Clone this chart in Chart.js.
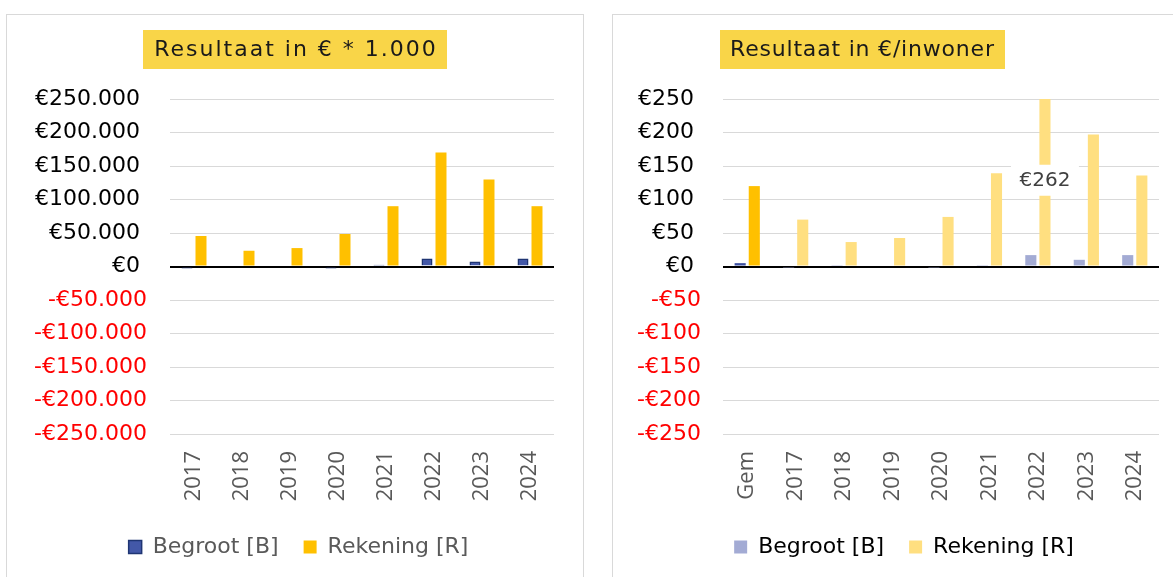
<!DOCTYPE html>
<html><head><meta charset="utf-8">
<script src="https://cdn.jsdelivr.net/npm/chart.js@4.4.1/dist/chart.umd.min.js"></script>
<style>
html,body{margin:0;padding:0;background:#fff;width:1173px;height:577px;overflow:hidden;position:relative}
.panel{position:absolute;top:14px;width:578px;height:600px;border:1px solid #D9D9D9;box-sizing:border-box}
canvas{position:absolute;top:14px}
</style></head><body>
<div class="panel" style="left:6px"></div>
<div class="panel" style="left:612px"></div>
<canvas id="c1" width="578" height="600" style="left:6px"></canvas>
<canvas id="c2" width="578" height="600" style="left:612px"></canvas>
<script>
// ---- data ----
const leftTitle = 'Resultaat in € * 1.000';
const rightTitle = 'Resultaat in €/inwoner';
const seriesLabels = ['Begroot [B]', 'Rekening [R]'];

const leftCategories = ['2017','2018','2019','2020','2021','2022','2023','2024'];
const leftBegroot   = [-3000, 1500, 1500, -3000, 2500, 12000, 7500, 12000];
const leftRekening  = [45500, 23500, 27500, 48500, 90000, 170000, 130000, 90000];

const rightCategories = ['Gem','2017','2018','2019','2020','2021','2022','2023','2024'];
const rightBegroot   = [5, -1, 1, 0, -1, 2, 17, 10, 17];
const rightRekening  = [120, 70, 36.5, 42.5, 74, 139, 262, 197, 136];

const leftAxis  = {min: -250000, max: 250000, step: 50000};
const rightAxis = {min: -250, max: 250, step: 50};

// ---- helpers ----
function fmtEuro(v){
  const a = Math.abs(v);
  const s = String(a).replace(/\B(?=(\d{3})+(?!\d))/g, '.');
  return v < 0 ? '-€' + s : '€' + s + ' ';
}

const titleBox = {
  id: 'titleBox',
  afterDraw(chart, args, o){
    if (!o || !o.text) return;
    const ctx = chart.ctx;
    ctx.save();
    ctx.font = '22px "DejaVu Sans"';
    if ('letterSpacing' in ctx) ctx.letterSpacing = o.spacing + 'px';
    const w = ctx.measureText(o.text).width;
    const bw = w + 2*10;
    ctx.fillStyle = '#F9D548';
    ctx.fillRect(Math.round(o.cx - bw/2), o.top, Math.round(bw), o.height);
    ctx.fillStyle = '#1A1A1A';
    ctx.textAlign = 'center';
    ctx.textBaseline = 'middle';
    ctx.fillText(o.text, o.cx + o.spacing/2, o.top + o.height/2 + 1);
    ctx.restore();
  }
};

const legendShift = {
  id: 'legendShift',
  afterLayout(chart, args, o){
    if (!o || o.left == null || !chart.legend) return;
    chart.legend.left = o.left;
    chart.legend.right = o.right;
    chart.legend.width = o.right - o.left;
  }
};

const overflowLabel = {
  id: 'overflowLabel',
  afterDatasetsDraw(chart, args, o){
    if (!o || o.datasetIndex == null) return;
    const meta = chart.getDatasetMeta(o.datasetIndex);
    const ds = chart.data.datasets[o.datasetIndex];
    const ys = chart.scales.y;
    const ctx = chart.ctx;
    meta.data.forEach((bar, i) => {
      const v = ds.data[i];
      if (v <= ys.max) return;
      const top = Math.max(bar.y, chart.chartArea.top);
      const cy = (top + bar.base)/2 - 2;
      const txt = '€' + v;
      ctx.save();
      ctx.font = '20px "DejaVu Sans"';
      const w = ctx.measureText(txt).width;
      const bw = w + 17, bh = 31;
      ctx.fillStyle = '#FFFFFF';
      ctx.fillRect(bar.x - bw/2, cy - bh/2, bw, bh);
      ctx.fillStyle = '#404040';
      ctx.textAlign = 'center';
      ctx.textBaseline = 'middle';
      ctx.fillText(txt, bar.x, cy + 1);
      ctx.restore();
    });
  }
};

function makeOptions(cfg){
  return {
    responsive: false,
    animation: false,
    devicePixelRatio: 1,
    layout: {padding: {left: 0, right: cfg.padRight, top: 85, bottom: 46}},
    plugins: {
      title: {display: false},
      tooltip: {enabled: false},
      titleBox: {text: cfg.title, cx: cfg.titleCx, top: 16, height: 39, spacing: cfg.titleSpacing},
      legendShift: {left: 37, right: 578 - cfg.padRight},
      overflowLabel: cfg.overflow || {},
      legend: {
        position: 'bottom',
        labels: Object.assign({
          boxWidth: 13, boxHeight: 13, padding: 25,
          color: '#595959',
          font: {family: '"DejaVu Sans"', size: 22}
        }, cfg.legendLabels || {})
      }
    },
    scales: {
      x: {
        grid: {display: false, drawTicks: false},
        border: {display: false},
        ticks: {
          minRotation: 90, maxRotation: 90, autoSkip: false, padding: 17,
          color: '#595959', font: {family: '"Open Sans"', size: 22}
        },
        afterFit(s){ s.height = 77; }
      },
      y: {
        min: cfg.axis.min, max: cfg.axis.max,
        grid: {
          drawTicks: false,
          color: c => (c.tick && c.tick.value === 0) ? '#000000' : '#D9D9D9',
          lineWidth: c => (c.tick && c.tick.value === 0) ? 2 : 1
        },
        border: {display: false},
        ticks: {
          stepSize: cfg.axis.step,
          padding: cfg.tickPad,
          callback: v => fmtEuro(v),
          color: c => c.tick.value < 0 ? '#FF0000' : '#000000',
          font: {family: '"DejaVu Sans"', size: 22}
        },
        afterFit(s){ s.width = cfg.yWidth; }
      }
    }
  };
}

Chart.register(titleBox, overflowLabel, legendShift);

new Chart(document.getElementById('c1'), {
  type: 'bar',
  data: {
    labels: leftCategories,
    datasets: [
      {label: seriesLabels[0], data: leftBegroot, backgroundColor: '#4358A8', borderColor: '#1F3573', borderWidth: 1.5,
       categoryPercentage: 0.583, barPercentage: 0.786},
      {label: seriesLabels[1], data: leftRekening, backgroundColor: '#FFC000', borderWidth: 0,
       categoryPercentage: 0.583, barPercentage: 0.786}
    ]
  },
  options: makeOptions({title: leftTitle, titleCx: 289, titleSpacing: 2, axis: leftAxis, yWidth: 164, tickPad: 23, padRight: 30})
});

const rightBColors = rightCategories.map((c, i) => i === 0 ? '#3B4FA0' : '#A3ABD4');
const rightRColors = rightCategories.map((c, i) => i === 0 ? '#FFC000' : '#FFDF80');
const rightLegendColors = ['#A3ABD4', '#FFDF80'];

new Chart(document.getElementById('c2'), {
  type: 'bar',
  data: {
    labels: rightCategories,
    datasets: [
      {label: seriesLabels[0], data: rightBegroot, backgroundColor: rightBColors, borderWidth: 0,
       categoryPercentage: 0.583, barPercentage: 0.786},
      {label: seriesLabels[1], data: rightRekening, backgroundColor: rightRColors, borderWidth: 0,
       categoryPercentage: 0.583, barPercentage: 0.786}
    ]
  },
  options: makeOptions({
    title: rightTitle, titleCx: 250, titleSpacing: 0.8, axis: rightAxis, yWidth: 111, tickPad: 22, padRight: 31,
    overflow: {datasetIndex: 1},
    legendLabels: {
      generateLabels: chart => chart.data.datasets.map((ds, i) => ({
        text: ds.label, fillStyle: rightLegendColors[i], strokeStyle: rightLegendColors[i],
        lineWidth: 0, hidden: false, datasetIndex: i
      }))
    }
  })
});
</script>
</body></html>
